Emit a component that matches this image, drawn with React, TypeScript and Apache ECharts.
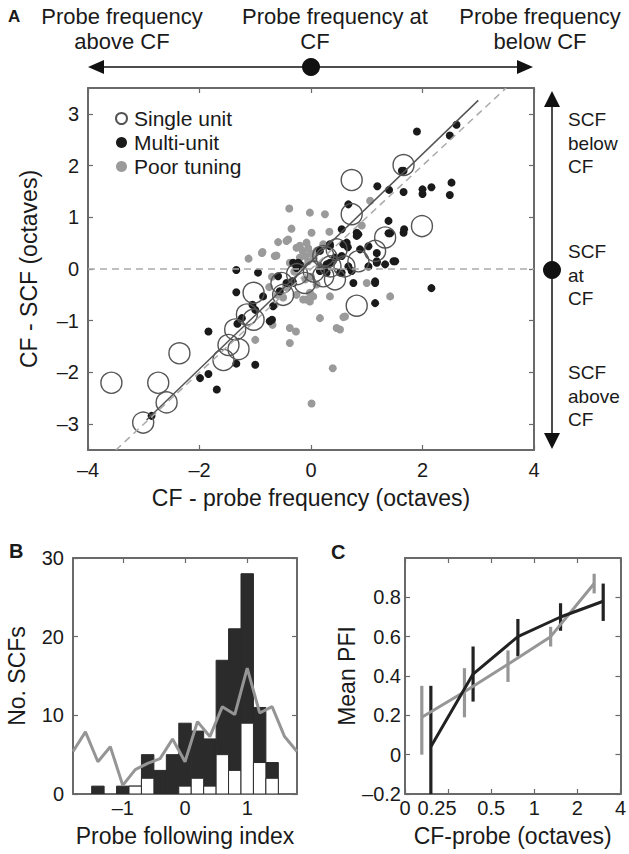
import React, { useEffect, useRef } from "react";
import * as echarts from "echarts";

const FONT = '"Liberation Sans", Arial, Helvetica, sans-serif';
const TXT = "#1a1a1a";
const AX = "#6a6a6a";

// ---------- Panel A data (CF - probe frequency, CF - SCF), octaves ----------
const singleUnit: [number, number][] = [
  [-3.58, -2.2], [-2.74, -2.2], [-2.36, -1.63], [-2.59, -2.58], [-3.01, -2.97],
  [-1.57, -1.76], [-1.3, -1.55], [-1.48, -1.47], [-1.36, -1.17], [-1.15, -0.88],
  [-1.03, -0.98], [-1.03, -0.46], [-0.53, -0.27], [-0.5, -0.5], [-0.11, -0.27],
  [0.22, 0.25], [0.43, -0.2], [0.82, -0.71], [0.46, 0.38], [1.66, 2.01],
  [0.73, 1.72], [0.73, 1.06], [1.99, 0.83], [1.33, 0.61], [1.15, 0.35],
  [0.85, 0.15], [0.28, 0.22], [0.22, -0.14], [0.6, 0.05], [0.05, -0.05],
  [-0.25, -0.1], [0.35, 0.05],
];

const multiUnit: [number, number][] = [
  [-1.34, -0.02], [-0.95, -0.07], [-1.34, -0.45], [-0.86, -0.53], [-1.05, -0.69],
  [-1.0, -0.79], [-1.24, -0.95], [-1.32, -1.06], [-0.7, -0.98], [-0.68, -0.72],
  [-1.84, -1.21], [-1.34, -1.83], [-1.0, -1.85], [-1.84, -2.03], [-1.99, -2.11],
  [-1.69, -2.33], [-2.86, -2.84], [-0.56, -0.43], [-0.33, -0.24], [-0.23, 0.12],
  [-0.59, -0.14], [0.16, -0.04], [0.34, 0.12], [0.28, -0.07], [0.52, -0.07],
  [2.16, -0.37], [1.15, -0.24], [1.15, -0.66], [0.76, -0.27], [1.51, 0.15],
  [1.33, 0.09], [1.18, 0.15], [1.42, 0.69], [1.66, 0.7], [1.18, 0.31],
  [0.85, 0.67], [0.58, 0.48], [0.66, 0.42], [0.73, -0.04], [-0.32, 0.12],
  [-0.44, -0.27], [0.28, 0.09], [0.55, -0.07], [1.9, 2.66], [2.61, 2.79],
  [2.49, 2.58], [2.52, 1.67], [2.49, 1.43], [2.16, 1.58], [2.0, 1.54],
  [2.0, 1.45], [1.66, 1.49], [1.4, 1.53], [1.19, 1.6], [1.66, 1.9],
  [0.67, 1.25], [1.39, 0.93], [1.67, 0.77], [1.39, 0.69], [0.82, 0.7],
  [0.55, 0.77], [1.18, 0.12], [0.88, 0.38], [0.64, 0.51], [0.34, 0.48],
  [1.03, 0.44], [-0.32, -0.27], [-0.2, 0.09], [-0.26, 0.02], [0.16, 0.35],
  [0.34, 0.44], [0.82, 0.64], [0.43, 0.22], [0.55, 0.25], [0.67, 0.05],
  [1.03, 0.05], [1.48, 0.15], [1.15, -0.27], [-0.74, -1.01], [1.63, 1.9],
];

const poorTuning: [number, number][] = [
  [-0.39, 1.17], [-0.02, 1.09], [0.25, 1.06], [-0.35, 0.78], [0.01, 0.7],
  [0.33, 0.72], [-0.87, 0.33], [-0.59, 0.52], [-0.44, 0.54], [-1.12, 0.2],
  [-0.65, 0.25], [-0.26, 0.41], [-0.08, 0.51], [0.22, 0.48], [0.1, 0.35],
  [-0.2, 0.22], [-0.38, 0.12], [-0.41, 0.57], [-0.88, 0.31], [-0.62, 0.26],
  [-0.35, -0.24], [-0.26, -0.5], [-0.14, -0.59], [-0.02, -0.63], [0.16, -0.95],
  [-0.65, -0.69], [-0.69, -1.08], [-1.0, -1.37], [-0.38, -1.14], [-0.27, -1.21],
  [-0.38, -1.43], [0.39, -1.92], [0.01, -2.6], [0.46, -1.14], [0.52, -1.17],
  [0.61, -0.92], [1.42, -0.53], [1.0, -0.27], [0.34, -0.53], [0.58, -0.93],
  [-0.08, -0.59], [-0.02, -0.46], [0.04, -0.53], [1.06, 1.32], [0.91, 0.84],
  [-0.15, 0.35], [-0.1, 0.25], [-0.05, 0.4], [0.0, 0.3], [-0.2, 0.45],
  [-0.05, 0.15], [0.05, 0.2], [-0.15, 0.05], [0.0, -0.15], [0.1, -0.3],
  [-0.3, -0.05], [-0.45, -0.35], [-0.5, -0.55], [-0.6, -0.5], [-0.75, -0.35],
  [-0.7, -0.15], [-0.1, -0.2], [0.15, 0.05],
];

const fitLine: [number, number][] = [[-2.95, -2.92], [3.0, 3.26]];
const identityLine: [number, number][] = [[-3.5, -3.5], [3.5, 3.5]];
const zeroLine: [number, number][] = [[-4, 0], [4, 0]];
const aXTicks = [-4, -2, 0, 2, 4];
const aYTicks = [-3, -2, -1, 0, 1, 2, 3];

// ---------- Panel B data (probe following index histogram) ----------
const binCenters = [-1.4, -1.2, -1.0, -0.8, -0.6, -0.4, -0.2, 0, 0.2, 0.4, 0.6, 0.8, 1.0, 1.2, 1.4];
const allCounts = [1, 0, 1, 1, 5, 3, 5, 9, 8, 7, 17, 21, 28, 11, 4];
const singleCounts = [0, 0, 0, 1, 2, 0, 0, 1, 2, 1, 5, 3, 9, 4, 2];
const shuffleX = [-1.8, -1.6, -1.4, -1.2, -1.0, -0.8, -0.6, -0.4, -0.2, 0, 0.2, 0.4, 0.6, 0.8, 1.0, 1.2, 1.4, 1.6, 1.8];
const shuffleY = [5.4, 7.9, 4.1, 6.0, 1.1, 3.1, 3.9, 4.5, 7.0, 4.1, 9.2, 7.3, 11.1, 10.1, 16.0, 10.3, 11.1, 7.3, 5.4];
const bXTicks = [-1, 0, 1];

// ---------- Panel C data (log2 of CF-probe, octaves) ----------
const cTickPos = [-3, -2, -1, 0, 1, 2];
const cTickLabels = ["0", "0.25", "0.5", "1", "2", "4"];
const grayX = [-2.61, -1.62, -0.61, 0.38, 1.39];
const grayMean = [0.19, 0.32, 0.46, 0.6, 0.87];
const grayLo = [0.0, 0.19, 0.37, 0.55, 0.82];
const grayHi = [0.35, 0.44, 0.53, 0.65, 0.92];
const blackX = [-2.4, -1.42, -0.38, 0.61, 1.6];
const blackMean = [0.04, 0.41, 0.6, 0.7, 0.78];
const blackLo = [-0.27, 0.27, 0.5, 0.63, 0.68];
const blackHi = [0.35, 0.55, 0.69, 0.77, 0.87];
const cYTicks = [-0.2, 0, 0.2, 0.4, 0.6, 0.8];

const dash = (v: number | string) => String(v).replace("-", "\u2013");

function boxAxes(gridIndex: number, xr: [number, number], yr: [number, number], xt: number[], yt: number[]) {
  // mirrored top/right axes for the Matlab-style box with inner ticks
  const common = {
    gridIndex,
    axisLine: { show: true, onZero: false, lineStyle: { color: AX, width: 2 } },
    axisTick: { show: true, inside: true, length: 5, lineStyle: { color: AX, width: 1.2 } },
    axisLabel: { show: false },
    splitLine: { show: false },
  };
  return {
    x: { ...common, type: "value", position: "top", min: xr[0], max: xr[1], axisTick: { ...common.axisTick, customValues: xt } },
    y: { ...common, type: "value", position: "right", min: yr[0], max: yr[1], axisTick: { ...common.axisTick, customValues: yt } },
  };
}

export default function App() {
  const ref = useRef<HTMLDivElement>(null);
  useEffect(() => {
    document.body.style.margin = "0";
    if (!ref.current) return;
    const chart = echarts.init(ref.current, null, { renderer: "svg" });

    const axisLine = { show: true, onZero: false, lineStyle: { color: AX, width: 2 } };
    const tick = { show: true, inside: true, length: 5, lineStyle: { color: AX, width: 1.2 } };
    const label = (size: number, margin: number) => ({ color: TXT, fontSize: size, fontFamily: FONT, margin });
    const nameStyle = { color: TXT, fontSize: 23, fontFamily: FONT };

    const boxA = boxAxes(0, [-4, 4], [-3.5, 3.5], aXTicks, aYTicks);
    const boxB = boxAxes(1, [-1.8, 1.8], [0, 30], bXTicks, [0, 10, 20, 30]);
    const boxC = boxAxes(2, [-3, 2], [-0.2, 1.0], cTickPos, cYTicks);

    const errBar = (color: string) => (params: any, api: any) => {
      const p1 = api.coord([api.value(0), api.value(1)]);
      const p2 = api.coord([api.value(0), api.value(2)]);
      return {
        type: "line",
        shape: { x1: p1[0], y1: p1[1], x2: p2[0], y2: p2[1] },
        style: { stroke: color, lineWidth: 3.2 },
      };
    };
    const barItem = (fill: string, stroke: string) => (params: any, api: any) => {
      const x = api.value(0);
      const h = api.value(1);
      if (!h) return null;
      const a = api.coord([x - 0.1, h]);
      const b = api.coord([x + 0.1, 0]);
      return {
        type: "rect",
        shape: { x: a[0], y: a[1], width: b[0] - a[0], height: b[1] - a[1] },
        style: { fill, stroke, lineWidth: 1 },
      };
    };

    const option: any = {
      animation: false,
      backgroundColor: "#fff",
      textStyle: { fontFamily: FONT },
      grid: [
        { left: 88, top: 88, width: 446, height: 362 },
        { left: 73, top: 558, width: 224, height: 236 },
        { left: 405, top: 558, width: 223, height: 236 },
      ],
      legend: {
        orient: "vertical",
        left: 110,
        top: 103,
        itemWidth: 11,
        itemHeight: 11,
        itemGap: 3,
        data: ["Single unit", "Multi-unit", "Poor tuning"],
        textStyle: { color: TXT, fontSize: 21, fontFamily: FONT, padding: [0, 0, 0, 2] },
      },
      xAxis: [
        {
          type: "value", gridIndex: 0, min: -4, max: 4, position: "bottom",
          axisLine, axisTick: { ...tick, customValues: aXTicks },
          axisLabel: { ...label(20, 10), customValues: aXTicks, formatter: dash },
          splitLine: { show: false },
          name: "CF - probe frequency (octaves)", nameLocation: "middle", nameGap: 36, nameTextStyle: nameStyle,
        },
        boxA.x,
        {
          type: "value", gridIndex: 1, min: -1.8, max: 1.8, position: "bottom",
          axisLine, axisTick: { ...tick, customValues: bXTicks },
          axisLabel: { ...label(20, 4), customValues: bXTicks, formatter: dash },
          splitLine: { show: false },
          name: "Probe following index", nameLocation: "middle", nameGap: 30, nameTextStyle: nameStyle,
        },
        boxB.x,
        {
          type: "value", gridIndex: 2, min: -3, max: 2, interval: 1, position: "bottom",
          axisLine, axisTick: tick,
          axisLabel: {
            fontSize: 20, fontFamily: FONT, margin: 4,
            showMinLabel: true, showMaxLabel: true,
            formatter: (v: number) => {
              const i = cTickPos.findIndex((t) => Math.abs(t - Number(v)) < 1e-6);
              const s = i >= 0 ? cTickLabels[i] : "";
              return i === 1 ? "{l|" + s + "}" : "{n|" + s + "}";
            },
            rich: {
              l: { fontSize: 20, fontFamily: FONT, color: TXT, padding: [0, 22, 0, 0] },
              n: { fontSize: 20, fontFamily: FONT, color: TXT },
            },
          },
          splitLine: { show: false },
          name: "CF-probe (octaves)", nameLocation: "middle", nameGap: 30, nameTextStyle: nameStyle,
        },
        boxC.x,
      ],
      yAxis: [
        {
          type: "value", gridIndex: 0, min: -3.5, max: 3.5, position: "left",
          axisLine, axisTick: { ...tick, customValues: aYTicks },
          axisLabel: { ...label(20, 9), customValues: aYTicks, formatter: dash },
          splitLine: { show: false },
          name: "CF - SCF (octaves)", nameLocation: "middle", nameGap: 48, nameTextStyle: nameStyle,
        },
        boxA.y,
        {
          type: "value", gridIndex: 1, min: 0, max: 30, interval: 10, position: "left",
          axisLine, axisTick: tick,
          axisLabel: label(20, 9),
          splitLine: { show: false },
          name: "No. SCFs", nameLocation: "middle", nameGap: 45, nameTextStyle: nameStyle,
        },
        boxB.y,
        {
          type: "value", gridIndex: 2, min: -0.2, max: 1.0, position: "left",
          axisLine, axisTick: { ...tick, customValues: cYTicks },
          axisLabel: { ...label(20, 4), customValues: cYTicks, formatter: (v: number) => dash(Math.round(v * 10) / 10) },
          splitLine: { show: false },
          name: "Mean PFI", nameLocation: "middle", nameGap: 46, nameTextStyle: nameStyle,
        },
        boxC.y,
      ],
      series: [
        // Panel A
        {
          type: "line", xAxisIndex: 0, yAxisIndex: 0, data: zeroLine, symbol: "none", silent: true,
          lineStyle: { color: "#aaa", width: 1.5, type: [7, 5] },
        },
        {
          type: "line", xAxisIndex: 0, yAxisIndex: 0, data: identityLine, symbol: "none", silent: true,
          lineStyle: { color: "#aaa", width: 1.5, type: [7, 5] },
        },
        {
          name: "Poor tuning", type: "scatter", xAxisIndex: 0, yAxisIndex: 0, data: poorTuning,
          symbol: "circle", symbolSize: 8, itemStyle: { color: "#9a9a9a", opacity: 1 },
        },
        {
          name: "Multi-unit", type: "scatter", xAxisIndex: 0, yAxisIndex: 0, data: multiUnit,
          symbol: "circle", symbolSize: 8, itemStyle: { color: "#1a1a1a", opacity: 1 },
        },
        {
          name: "Single unit", type: "scatter", xAxisIndex: 0, yAxisIndex: 0, data: singleUnit,
          symbol: "circle", symbolSize: 21,
          itemStyle: { color: "rgba(255,255,255,0)", borderColor: "#555", borderWidth: 1.4, opacity: 1 },
        },
        {
          type: "line", xAxisIndex: 0, yAxisIndex: 0, data: fitLine, symbol: "none", silent: true,
          lineStyle: { color: "#555", width: 1.5 },
        },
        // Panel B
        {
          type: "custom", xAxisIndex: 2, yAxisIndex: 2, clip: true,
          data: binCenters.map((x, i) => [x, allCounts[i]]),
          renderItem: barItem("#2b2b2b", "#2b2b2b"),
        },
        {
          type: "custom", xAxisIndex: 2, yAxisIndex: 2, clip: true,
          data: binCenters.map((x, i) => [x, singleCounts[i]]),
          renderItem: barItem("#ffffff", "#2b2b2b"),
        },
        {
          type: "line", xAxisIndex: 2, yAxisIndex: 2, symbol: "none",
          data: shuffleX.map((x, i) => [x, shuffleY[i]]),
          lineStyle: { color: "#959595", width: 3 },
        },
        // Panel C
        {
          type: "line", xAxisIndex: 4, yAxisIndex: 4, symbol: "none",
          data: grayX.map((x, i) => [x, grayMean[i]]),
          lineStyle: { color: "#969696", width: 3 },
        },
        {
          type: "custom", xAxisIndex: 4, yAxisIndex: 4, clip: true,
          data: grayX.map((x, i) => [x, grayLo[i], grayHi[i]]),
          renderItem: errBar("#969696"),
        },
        {
          type: "line", xAxisIndex: 4, yAxisIndex: 4, symbol: "none",
          data: blackX.map((x, i) => [x, blackMean[i]]),
          lineStyle: { color: "#222", width: 3 },
        },
        {
          type: "custom", xAxisIndex: 4, yAxisIndex: 4, clip: true,
          data: blackX.map((x, i) => [x, blackLo[i], blackHi[i]]),
          renderItem: errBar("#222"),
        },
      ],
      graphic: [
        { type: "text", left: 8, top: 8, style: { text: "A", fontSize: 17, fontWeight: "bold", fontFamily: FONT, fill: TXT } },
        { type: "text", left: 9, top: 541, style: { text: "B", fontSize: 20, fontWeight: "bold", fontFamily: FONT, fill: TXT } },
        { type: "text", left: 331, top: 542, style: { text: "C", fontSize: 20, fontWeight: "bold", fontFamily: FONT, fill: TXT } },
        // top annotations
        { type: "text", x: 122, y: 4, style: { text: "Probe frequency\nabove CF", align: "center", verticalAlign: "top", fontSize: 22, lineHeight: 25, fontFamily: FONT, fill: TXT } },
        { type: "text", x: 335, y: 4, style: { text: "Probe frequency at", align: "center", verticalAlign: "top", fontSize: 22, lineHeight: 25, fontFamily: FONT, fill: TXT } },
        { type: "text", x: 315, y: 29, style: { text: "CF", align: "center", verticalAlign: "top", fontSize: 22, lineHeight: 25, fontFamily: FONT, fill: TXT } },
        { type: "text", x: 540, y: 4, style: { text: "Probe frequency\nbelow CF", align: "center", verticalAlign: "top", fontSize: 22, lineHeight: 25, fontFamily: FONT, fill: TXT } },
        { type: "line", shape: { x1: 100, y1: 67, x2: 521, y2: 67 }, style: { stroke: "#111", lineWidth: 1.5 } },
        { type: "polygon", shape: { points: [[88, 67], [104, 60], [104, 74]] }, style: { fill: "#111" } },
        { type: "polygon", shape: { points: [[533, 67], [517, 60], [517, 74]] }, style: { fill: "#111" } },
        { type: "circle", shape: { cx: 311, cy: 67, r: 9 }, style: { fill: "#111" } },
        // right annotations
        { type: "line", shape: { x1: 552, y1: 104, x2: 552, y2: 436 }, style: { stroke: "#111", lineWidth: 1.5 } },
        { type: "polygon", shape: { points: [[552, 91], [544, 107], [560, 107]] }, style: { fill: "#111" } },
        { type: "polygon", shape: { points: [[552, 449], [544, 433], [560, 433]] }, style: { fill: "#111" } },
        { type: "circle", shape: { cx: 552, cy: 270, r: 9 }, style: { fill: "#111" } },
        { type: "text", x: 568, y: 108, style: { text: "SCF\nbelow\nCF", align: "left", verticalAlign: "top", fontSize: 19, lineHeight: 23.5, fontFamily: FONT, fill: TXT } },
        { type: "text", x: 568, y: 240, style: { text: "SCF\nat\nCF", align: "left", verticalAlign: "top", fontSize: 19, lineHeight: 23.5, fontFamily: FONT, fill: TXT } },
        { type: "text", x: 568, y: 361, style: { text: "SCF\nabove\nCF", align: "left", verticalAlign: "top", fontSize: 19, lineHeight: 23.5, fontFamily: FONT, fill: TXT } },
      ],
    };
    chart.setOption(option);
    return () => chart.dispose();
  }, []);
  return <div ref={ref} style={{ position: "absolute", left: 0, top: 0, width: 629, height: 854 }} />;
}
